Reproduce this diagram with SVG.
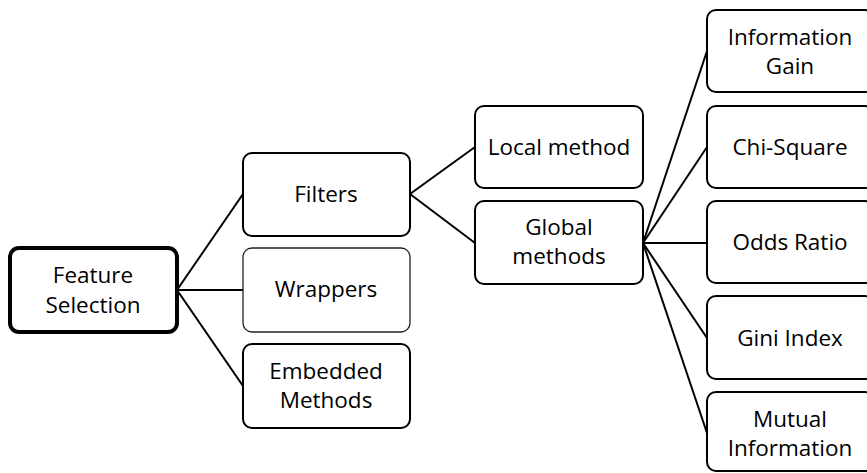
<svg xmlns="http://www.w3.org/2000/svg" width="867" height="473" viewBox="0 0 867 473">
  <style>
    .box { fill: #fff; stroke: #000; stroke-width: 2; }
    .root { stroke-width: 4; }
    .thin { stroke-width: 1.3; stroke: #222; }
    .lbl { font-family: "Open Sans", "Liberation Sans", sans-serif; font-size: 22.5px; fill: #000; text-anchor: middle; }
    .edge { stroke: #000; stroke-width: 2; fill: none; }
  </style>
  <rect width="867" height="473" fill="#fff"/>

  <g id="connectors">
    <line class="edge" x1="177" y1="290" x2="243" y2="194"/>
    <line class="edge" x1="177" y1="290" x2="243" y2="290"/>
    <line class="edge" x1="177" y1="290" x2="243" y2="386"/>
    <line class="edge" x1="410" y1="194" x2="475" y2="147"/>
    <line class="edge" x1="410" y1="194" x2="475" y2="243"/>
    <line class="edge" x1="643" y1="243" x2="707" y2="51"/>
    <line class="edge" x1="643" y1="243" x2="707" y2="147"/>
    <line class="edge" x1="643" y1="243" x2="707" y2="243"/>
    <line class="edge" x1="643" y1="243" x2="707" y2="338"/>
    <line class="edge" x1="643" y1="243" x2="707" y2="433"/>
  </g>

  <g id="feature-selection">
    <rect class="box root" x="10" y="248" width="167" height="84" rx="9"/>
    <text class="lbl" x="93" y="283">Feature</text>
    <text class="lbl" x="93" y="313">Selection</text>
  </g>

  <g id="filters">
    <rect class="box" x="243" y="153" width="167" height="83" rx="9"/>
    <text class="lbl" x="326" y="202">Filters</text>
  </g>

  <g id="wrappers">
    <rect class="box thin" x="243" y="248" width="167" height="84" rx="9"/>
    <text class="lbl" x="326" y="297">Wrappers</text>
  </g>

  <g id="embedded-methods">
    <rect class="box" x="243" y="344" width="167" height="84" rx="9"/>
    <text class="lbl" x="326" y="379">Embedded</text>
    <text class="lbl" x="326" y="408">Methods</text>
  </g>

  <g id="local-method">
    <rect class="box" x="475" y="106" width="168" height="82" rx="9"/>
    <text class="lbl" x="559" y="155">Local method</text>
  </g>

  <g id="global-methods">
    <rect class="box" x="475" y="201" width="168" height="83" rx="9"/>
    <text class="lbl" x="559" y="235">Global</text>
    <text class="lbl" x="559" y="264">methods</text>
  </g>

  <g id="information-gain">
    <rect class="box" x="707" y="10" width="167" height="82" rx="9"/>
    <text class="lbl" x="790" y="45">Information</text>
    <text class="lbl" x="790" y="74">Gain</text>
  </g>

  <g id="chi-square">
    <rect class="box" x="707" y="106" width="167" height="82" rx="9"/>
    <text class="lbl" x="790" y="155">Chi-Square</text>
  </g>

  <g id="odds-ratio">
    <rect class="box" x="707" y="201" width="167" height="82" rx="9"/>
    <text class="lbl" x="790" y="250">Odds Ratio</text>
  </g>

  <g id="gini-index">
    <rect class="box" x="707" y="296" width="167" height="83" rx="9"/>
    <text class="lbl" x="790" y="346">Gini Index</text>
  </g>

  <g id="mutual-information">
    <rect class="box" x="707" y="392" width="167" height="79" rx="9"/>
    <text class="lbl" x="790" y="427">Mutual</text>
    <text class="lbl" x="790" y="456">Information</text>
  </g>
</svg>
